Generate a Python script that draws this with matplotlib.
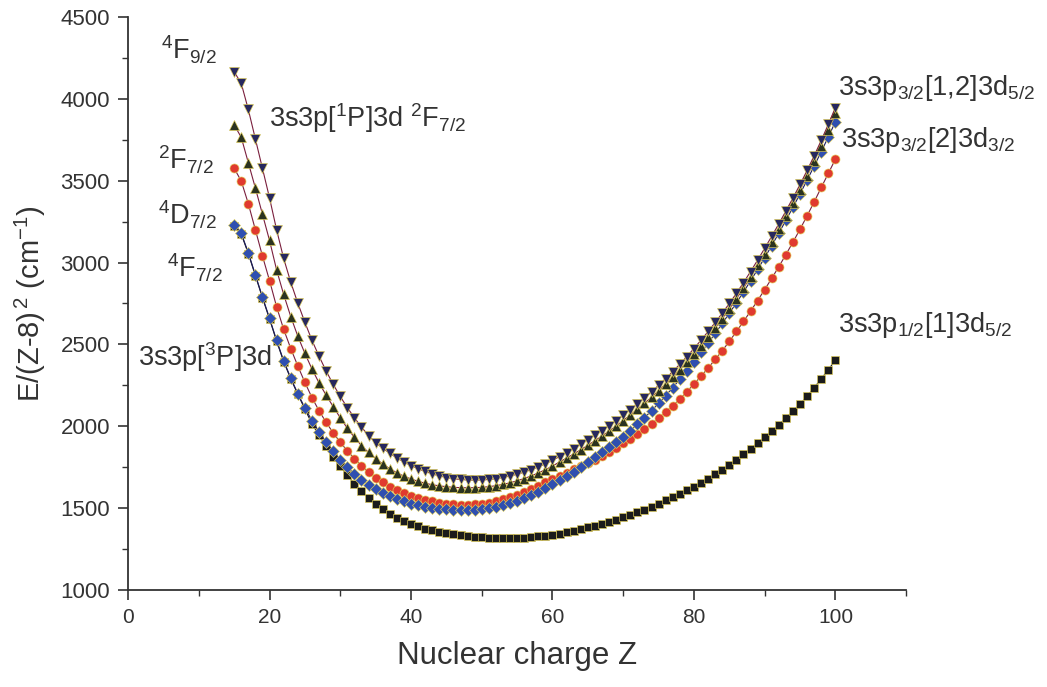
import numpy as np
import matplotlib.pyplot as plt
from matplotlib.ticker import MultipleLocator

# nuclear charge Z for every series
z = np.arange(15, 101)

# 3s3p[1P]3d 2F7/2 / 4F9/2 branch (down triangles)
e_f92 = [4165, 4095, 3935, 3755, 3575, 3395, 3200, 3025, 2880, 2752,
         2635, 2525, 2428, 2338, 2256, 2182, 2114, 2052, 1995, 1943,
         1900, 1866, 1835, 1807, 1782, 1760, 1741, 1724, 1709, 1697,
         1687, 1680, 1675, 1672, 1671, 1672, 1675, 1680, 1687, 1696,
         1707, 1720, 1735, 1752, 1771, 1792, 1815, 1839, 1864, 1890,
         1917, 1945, 1974, 2004, 2035, 2068, 2102, 2137, 2173, 2211,
         2250, 2291, 2334, 2379, 2426, 2475, 2526, 2579, 2634, 2691,
         2750, 2812, 2877, 2945, 3015, 3087, 3161, 3237, 3315, 3395,
         3477, 3563, 3653, 3747, 3845, 3947]

# 2F7/2 branch (up triangles)
e_2f72 = [3841, 3765, 3610, 3455, 3295, 3135, 2955, 2805, 2670, 2550,
          2445, 2350, 2265, 2190, 2120, 2052, 1988, 1932, 1882, 1840,
          1803, 1770, 1741, 1716, 1695, 1678, 1664, 1652, 1643, 1636,
          1631, 1627, 1625, 1624, 1625, 1627, 1631, 1637, 1645, 1655,
          1667, 1681, 1697, 1715, 1735, 1757, 1782, 1806, 1831, 1857,
          1884, 1912, 1941, 1971, 2002, 2035, 2069, 2104, 2140, 2178,
          2217, 2258, 2301, 2346, 2393, 2442, 2493, 2546, 2601, 2658,
          2717, 2779, 2844, 2912, 2982, 3054, 3128, 3204, 3282, 3362,
          3444, 3530, 3620, 3714, 3812, 3914]

# 4D7/2 branch (red circles)
e_4d72 = [3576, 3498, 3360, 3200, 3040, 2890, 2730, 2592, 2475, 2368,
          2268, 2175, 2095, 2024, 1960, 1902, 1850, 1802, 1759, 1720,
          1686, 1657, 1632, 1611, 1593, 1577, 1563, 1551, 1541, 1533,
          1527, 1523, 1521, 1521, 1523, 1527, 1533, 1541, 1553, 1567,
          1583, 1600, 1618, 1637, 1657, 1677, 1697, 1717, 1736, 1755,
          1775, 1797, 1820, 1844, 1869, 1895, 1922, 1951, 1982, 2015,
          2050, 2087, 2126, 2167, 2212, 2258, 2306, 2356, 2408, 2462,
          2518, 2579, 2640, 2703, 2768, 2835, 2904, 2975, 3049, 3125,
          3204, 3286, 3371, 3459, 3545, 3632]

# 4F7/2 branch (blue diamonds)
e_4f72 = [3230, 3179, 3060, 2925, 2790, 2660, 2525, 2400, 2295, 2200,
          2112, 2035, 1966, 1903, 1846, 1795, 1749, 1709, 1674, 1643,
          1616, 1593, 1573, 1556, 1541, 1528, 1518, 1509, 1502, 1496,
          1492, 1489, 1488, 1488, 1490, 1494, 1500, 1508, 1518, 1530,
          1544, 1560, 1578, 1598, 1620, 1645, 1670, 1696, 1723, 1751,
          1780, 1810, 1841, 1872, 1903, 1935, 1972, 2011, 2052, 2095,
          2140, 2187, 2236, 2287, 2340, 2395, 2451, 2508, 2567, 2628,
          2690, 2754, 2820, 2888, 2958, 3030, 3104, 3180, 3258, 3338,
          3420, 3504, 3590, 3678, 3768, 3860]

# 3s3p1/2[1]3d5/2 branch (black squares)
e_p12 = [3225, 3174, 3055, 2920, 2785, 2655, 2520, 2395, 2290, 2195,
         2105, 2015, 1945, 1878, 1815, 1756, 1701, 1650, 1603, 1561,
         1524, 1492, 1464, 1440, 1420, 1403, 1388, 1375, 1364, 1354,
         1346, 1339, 1333, 1328, 1324, 1321, 1319, 1318, 1317, 1317,
         1318, 1320, 1323, 1327, 1332, 1338, 1345, 1353, 1362, 1372,
         1382, 1392, 1403, 1415, 1428, 1443, 1458, 1474, 1491, 1509,
         1528, 1547, 1567, 1587, 1608, 1630, 1654, 1680, 1707, 1735,
         1765, 1796, 1828, 1862, 1897, 1933, 1971, 2010, 2050, 2092,
         2136, 2184, 2236, 2290, 2346, 2404]


def draw_series(ax, y, marker, face, line, size=6.5):
    ax.plot(z, y, color=line, lw=0.8, marker=marker, ms=size,
            mfc=face, mec='#e2cf55', mew=0.45, zorder=3)


def main():
    plt.rcParams['font.family'] = ['Liberation Sans', 'DejaVu Sans']
    plt.rcParams['mathtext.fontset'] = 'custom'
    plt.rcParams['mathtext.rm'] = 'Liberation Sans'
    plt.rcParams['mathtext.it'] = 'Liberation Sans'

    fig = plt.figure(figsize=(10.47, 6.87), dpi=100)
    ax = fig.add_axes([0.1223, 0.1412, 0.7432, 0.8341])

    draw_series(ax, e_p12, 's', '#1b1b1b', '#1b1b1b', 6.0)
    draw_series(ax, e_4d72, 'o', '#e03a2f', '#7a1f3d')
    draw_series(ax, e_4f72, 'D', '#2f4fb0', '#1c1c5c', 6.0)
    draw_series(ax, e_2f72, '^', '#2b3320', '#7a1f3d', 7)
    draw_series(ax, e_f92, 'v', '#27285e', '#7a1f3d', 7)

    ax.set_xlim(0, 110)
    ax.set_ylim(1000, 4500)
    ax.xaxis.set_minor_locator(MultipleLocator(10))
    ax.yaxis.set_major_locator(MultipleLocator(500))
    ax.yaxis.set_minor_locator(MultipleLocator(250))
    ax.set_xticks([0, 20, 40, 60, 80, 100])
    ax.tick_params(which='major', direction='out', length=7, width=1.2,
                   colors='#333333', labelsize=14)
    ax.tick_params(which='minor', direction='out', length=4, width=1.0,
                   colors='#333333')
    ax.tick_params(axis='y', labelsize=16, pad=6)
    ax.tick_params(axis='x', labelsize=15, pad=6)
    ax.spines['top'].set_visible(False)
    ax.spines['right'].set_visible(False)
    for side in ('left', 'bottom'):
        ax.spines[side].set_linewidth(1.3)
        ax.spines[side].set_color('#333333')

    ax.set_xlabel('Nuclear charge Z', fontsize=22.5, color='#333333',
                  labelpad=10)
    ax.set_ylabel(r'E/(Z-8)$^{\,2}$ (cm$^{-1}$)', fontsize=21,
                  color='#333333', labelpad=9)

    tc = '#333333'
    fs = 19.5
    ax.text(4.6, 4300, r'$^4$F$_{9/2}$', fontsize=fs, color=tc, va='center')
    ax.text(19.9, 3880, r'3s3p[$^1$P]3d $^2$F$_{7/2}$', fontsize=fs,
            color=tc, va='center')
    ax.text(4.3, 3630, r'$^2$F$_{7/2}$', fontsize=fs, color=tc, va='center')
    ax.text(4.3, 3290, r'$^4$D$_{7/2}$', fontsize=fs, color=tc, va='center')
    ax.text(5.5, 2965, r'$^4$F$_{7/2}$', fontsize=fs, color=tc, va='center')
    ax.text(1.4, 2420, r'3s3p[$^3$P]3d', fontsize=fs, color=tc, va='center')
    ax.text(100.4, 4065, r'3s3p$_{3/2}$[1,2]3d$_{5/2}$', fontsize=fs,
            color=tc, va='center', clip_on=False)
    ax.text(100.8, 3750, r'3s3p$_{3/2}$[2]3d$_{3/2}$', fontsize=fs,
            color=tc, va='center', clip_on=False)
    ax.text(100.4, 2620, r'3s3p$_{1/2}$[1]3d$_{5/2}$', fontsize=fs,
            color=tc, va='center', clip_on=False)

    fig.savefig('out.png', dpi=100)


if __name__ == "__main__":
    main()
